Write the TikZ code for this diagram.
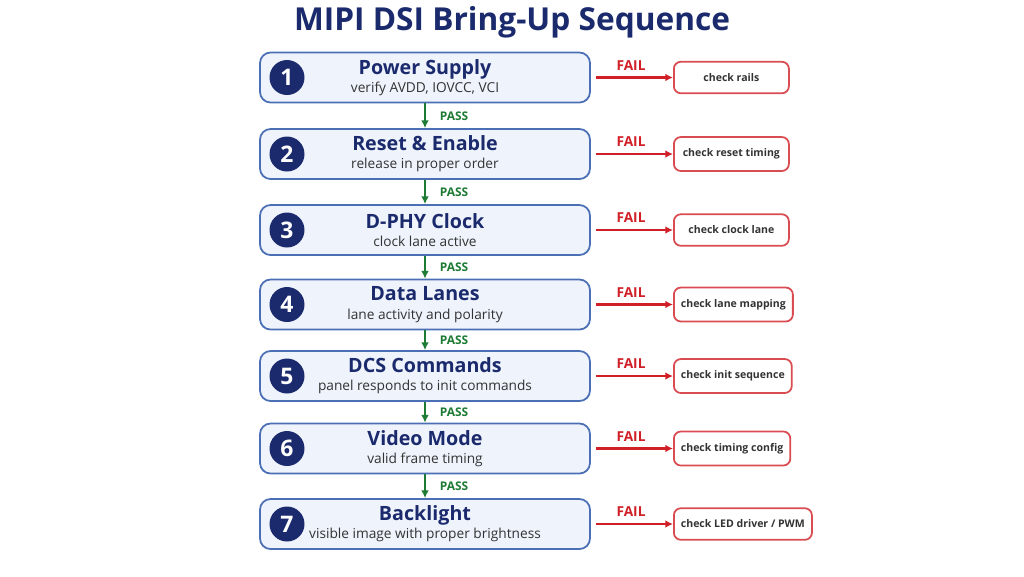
\documentclass[tikz,border=0pt]{standalone}
\usepackage{fontspec}
\setmainfont{Open Sans}
\usetikzlibrary{positioning,arrows.meta}
\definecolor{navy}{HTML}{1A2A6C}
\definecolor{stepfill}{HTML}{EEF3FC}
\definecolor{stepline}{HTML}{4A6FB5}
\definecolor{failred}{HTML}{D01F26}
\definecolor{passgreen}{HTML}{1E7B34}
\tikzset{
  stepnode/.style={draw=stepline, fill=stepfill, rounded corners=3pt, line width=0.5pt,
    minimum width=3.3cm, minimum height=0.5cm, align=center, inner sep=0pt,
    font=\fontsize{3.9}{4.6}\selectfont},
  num/.style={circle, fill=navy, text=white, minimum size=0.35cm, inner sep=0pt,
    font=\fontsize{6.5}{7}\selectfont\bfseries},
  fix/.style={draw=failred!80, fill=white, rounded corners=2pt, line width=0.5pt,
    minimum width=1.15cm, minimum height=0.3cm, inner xsep=2pt, anchor=west,
    font=\fontsize{3.0}{4}\selectfont\bfseries, text=black!80},
  failarr/.style={-{Latex[length=2.2pt,width=2.2pt]}, draw=failred, line width=0.6pt},
  passarr/.style={-{Latex[length=2.2pt,width=2.2pt]}, draw=passgreen, line width=0.6pt},
  faillbl/.style={text=failred, font=\fontsize{3.9}{4}\selectfont\bfseries},
  passlbl/.style={text=passgreen, font=\fontsize{3.4}{4}\selectfont\bfseries}
}
\newcommand{\stepbox}[2]{{\fontsize{5.6}{6.4}\selectfont\bfseries\color{navy}#1}\\[0.6pt]{\color{black!80}#2}}
\begin{document}
\begin{tikzpicture}
\useasboundingbox (0,0) rectangle (10.24,-5.76);
\node[text=navy, font=\fontsize{9}{9}\selectfont\bfseries] (title) at (5.12,-0.22) {MIPI DSI Bring-Up Sequence};

% steps
\foreach \i/\y/\head/\sub/\fixtxt in {
  1/0.775/Power Supply/{verify AVDD, IOVCC, VCI}/check rails,
  2/1.54/Reset \& Enable/release in proper order/check reset timing,
  3/2.30/D-PHY Clock/clock lane active/check clock lane,
  4/3.045/Data Lanes/lane activity and polarity/check lane mapping,
  5/3.76/DCS Commands/panel responds to init commands/check init sequence,
  6/4.485/Video Mode/valid frame timing/check timing config,
  7/5.24/Backlight/visible image with proper brightness/{check LED driver / PWM}}{
  \node[stepnode] (s\i) at (4.25,-\y) {\stepbox{\head}{\sub}};
  \node[num] (n\i) at (2.87,-\y) {\i};
  \node[fix] (f\i) at (6.73,-\y) {\fixtxt};
  \coordinate (fa\i) at ([xshift=0.05cm]s\i.east);
  \draw[failarr] (fa\i) -- (f\i.west);
  \node[faillbl] (fl\i) at (6.31,-\y+0.12) {FAIL};
}

% pass arrows
\foreach \a/\b in {1/2,2/3,3/4,4/5,5/6,6/7}{
  \draw[passarr] (s\a.south) -- (s\b.north);
  \path (s\a.south) -- (s\b.north) node[midway, passlbl, xshift=0.29cm] (p\a) {PASS};
}
\end{tikzpicture}
\end{document}
